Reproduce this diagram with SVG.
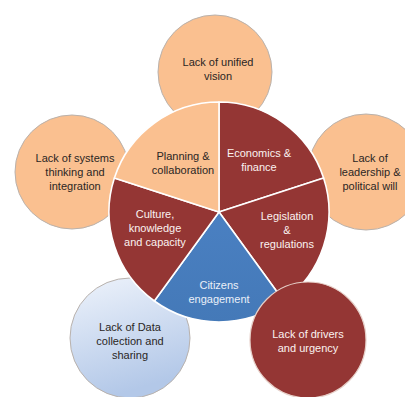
<svg xmlns="http://www.w3.org/2000/svg" width="405" height="397" viewBox="0 0 405 397">
<defs>
<linearGradient id="gBlue" x1="0" y1="0" x2="0.3" y2="1">
<stop offset="0" stop-color="#eef3fb"/>
<stop offset="1" stop-color="#b3c8e8"/>
</linearGradient>
<linearGradient id="gCit" x1="0" y1="0" x2="0" y2="1">
<stop offset="0" stop-color="#4a80c2"/>
<stop offset="1" stop-color="#4479b8"/>
</linearGradient>
<style>
.peach{fill:#fac090}
.red{fill:#943634}
.circ{stroke:#b9b2ad;stroke-width:1}
.slice{stroke:#ffffff;stroke-width:1.6;stroke-linejoin:round}
text{font-family:"Liberation Sans",Arial,sans-serif;font-size:11px;text-anchor:middle}
.dk{fill:#2a2624}
.wt{fill:#fbf2f0}
.bl{fill:#eaf0f8}
</style>
</defs>
<rect width="405" height="397" fill="#ffffff"/>
<g id="outer-top"><circle class="peach circ" cx="215" cy="72" r="57"/>
<text class="dk" x="218" y="66">Lack of unified</text><text class="dk" x="218" y="80">vision</text></g>
<g id="outer-left"><circle class="peach circ" cx="72" cy="172" r="57"/>
<text class="dk" x="75" y="162">Lack of systems</text><text class="dk" x="75" y="176">thinking and</text><text class="dk" x="75" y="190">integration</text></g>
<g id="outer-right"><circle class="peach circ" cx="366" cy="172" r="58"/>
<text class="dk" x="370" y="162">Lack of</text><text class="dk" x="370" y="176">leadership &amp;</text><text class="dk" x="370" y="190">political will</text></g>
<g id="outer-bottom-left"><circle fill="url(#gBlue)" class="circ" cx="130" cy="338" r="60"/>
<text class="dk" x="130" y="331">Lack of Data</text><text class="dk" x="130" y="345">collection and</text><text class="dk" x="130" y="359">sharing</text></g>
<g id="pie">
<g id="slice-economics"><path class="red slice" d="M219,212 L219,102 A110,110 0 0 1 323.62,178.01 Z"/>
<text class="wt" x="259" y="157">Economics &amp;</text><text class="wt" x="259" y="171">finance</text></g>
<g id="slice-legislation"><path class="red slice" d="M219,212 L323.62,178.01 A110,110 0 0 1 283.66,300.99 Z"/>
<text class="wt" x="287" y="220">Legislation</text><text class="wt" x="287" y="234">&amp;</text><text class="wt" x="287" y="248">regulations</text></g>
<g id="slice-citizens"><path fill="url(#gCit)" class="slice" d="M219,212 L283.66,300.99 A110,110 0 0 1 154.34,300.99 Z"/>
<text class="bl" x="219" y="289">Citizens</text><text class="bl" x="219" y="303">engagement</text></g>
<g id="slice-culture"><path class="red slice" d="M219,212 L154.34,300.99 A110,110 0 0 1 114.38,178.01 Z"/>
<text class="wt" x="155" y="218">Culture,</text><text class="wt" x="155" y="232">knowledge</text><text class="wt" x="155" y="246">and capacity</text></g>
<g id="slice-planning"><path class="peach slice" d="M219,212 L114.38,178.01 A110,110 0 0 1 219,102 Z"/>
<text class="dk" x="183" y="160">Planning &amp;</text><text class="dk" x="183" y="174">collaboration</text></g>
</g>
<g id="outer-bottom-right"><circle class="red" stroke="#e6cfc8" stroke-width="1.2" cx="308" cy="340" r="58"/>
<text class="wt" x="308" y="338">Lack of drivers</text><text class="wt" x="308" y="352">and urgency</text></g>
<g id="connectors"></g>
</svg>
